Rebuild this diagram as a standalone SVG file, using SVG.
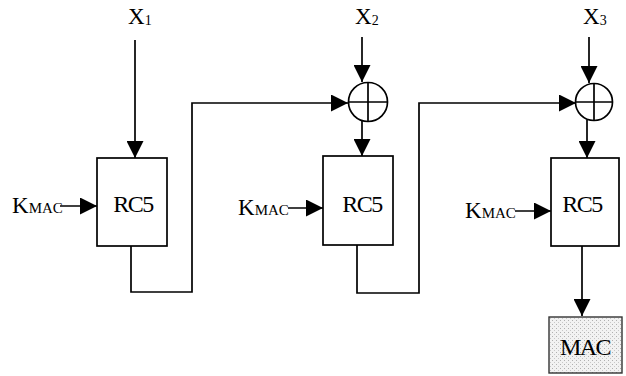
<svg xmlns="http://www.w3.org/2000/svg" width="626" height="376" viewBox="0 0 626 376">
<defs>
<style>
.ln{fill:none;stroke:#000;stroke-width:1.7}
.box{fill:#fff;stroke:#000;stroke-width:1.7}
.s{font-family:"Liberation Serif","Times New Roman",serif;fill:#000}
.big{font-size:23px}
.sub{font-size:14px}
.lbl{font-size:24px;letter-spacing:-1.5px}
</style>
<marker id="ah" markerWidth="17" markerHeight="17" viewBox="0 0 17 17" refX="17" refY="8.5" orient="auto" markerUnits="userSpaceOnUse">
<path d="M0,0 L17,8.5 L0,17 Z" fill="#000"/>
</marker>
<pattern id="dots" width="4" height="4" patternUnits="userSpaceOnUse">
<rect width="4" height="4" fill="#f2f2f2"/>
<rect x="0" y="0" width="1" height="1" fill="#b0b0b0"/>
<rect x="2" y="2" width="1" height="1" fill="#c8c8c8"/>
</pattern>
</defs>
<g id="connectors">
<path class="ln" d="M135,40 V158" marker-end="url(#ah)"/>
<path class="ln" d="M362,37 V82" marker-end="url(#ah)"/>
<path class="ln" d="M589,37 V83" marker-end="url(#ah)"/>
<path class="ln" d="M362,121 V156" marker-end="url(#ah)"/>
<path class="ln" d="M587,120 V158" marker-end="url(#ah)"/>
<path class="ln" d="M131,246 V292 H192 V103 H348" marker-end="url(#ah)"/>
<path class="ln" d="M357,245 V293 H419 V103 H576" marker-end="url(#ah)"/>
<path class="ln" d="M60,206 H97" marker-end="url(#ah)"/>
<path class="ln" d="M288,208 H323" marker-end="url(#ah)"/>
<path class="ln" d="M515,211 H551" marker-end="url(#ah)"/>
<path class="ln" d="M582,246 V316" marker-end="url(#ah)"/>
</g>
<g id="x1"><text class="s big" x="128" y="24">X<tspan class="sub" dy="1">1</tspan></text></g>
<g id="x2"><text class="s big" x="355" y="24">X<tspan class="sub" dy="1">2</tspan></text></g>
<g id="x3"><text class="s big" x="583" y="24">X<tspan class="sub" dy="1">3</tspan></text></g>
<g id="xor2">
<circle cx="368" cy="102" r="19.5" class="box"/>
<path class="ln" d="M348.5,102 H387.5 M368,82.5 V121.5"/>
</g>
<g id="xor3">
<circle cx="594" cy="102" r="18.5" class="box"/>
<path class="ln" d="M575.5,102 H612.5 M594,83.5 V120.5"/>
</g>
<g id="rc5a">
<rect x="97" y="158" width="70" height="88" class="box"/>
<text class="s lbl" x="133" y="212" text-anchor="middle">RC5</text>
</g>
<g id="rc5b">
<rect x="323" y="156" width="70" height="89" class="box"/>
<text class="s lbl" x="362" y="212" text-anchor="middle">RC5</text>
</g>
<g id="rc5c">
<rect x="551" y="158" width="68" height="88" class="box"/>
<text class="s lbl" x="582" y="212" text-anchor="middle">RC5</text>
</g>
<g id="k1"><text class="s big" x="12" y="213">K<tspan font-size="15">MAC</tspan></text></g>
<g id="k2"><text class="s big" x="238" y="215">K<tspan font-size="15">MAC</tspan></text></g>
<g id="k3"><text class="s big" x="465" y="218">K<tspan font-size="15">MAC</tspan></text></g>
<g id="mac">
<rect x="549" y="317" width="73" height="56" fill="url(#dots)" stroke="#333" stroke-width="1.4"/>
<text class="s lbl" x="585" y="355" text-anchor="middle">MAC</text>
</g>
</svg>
